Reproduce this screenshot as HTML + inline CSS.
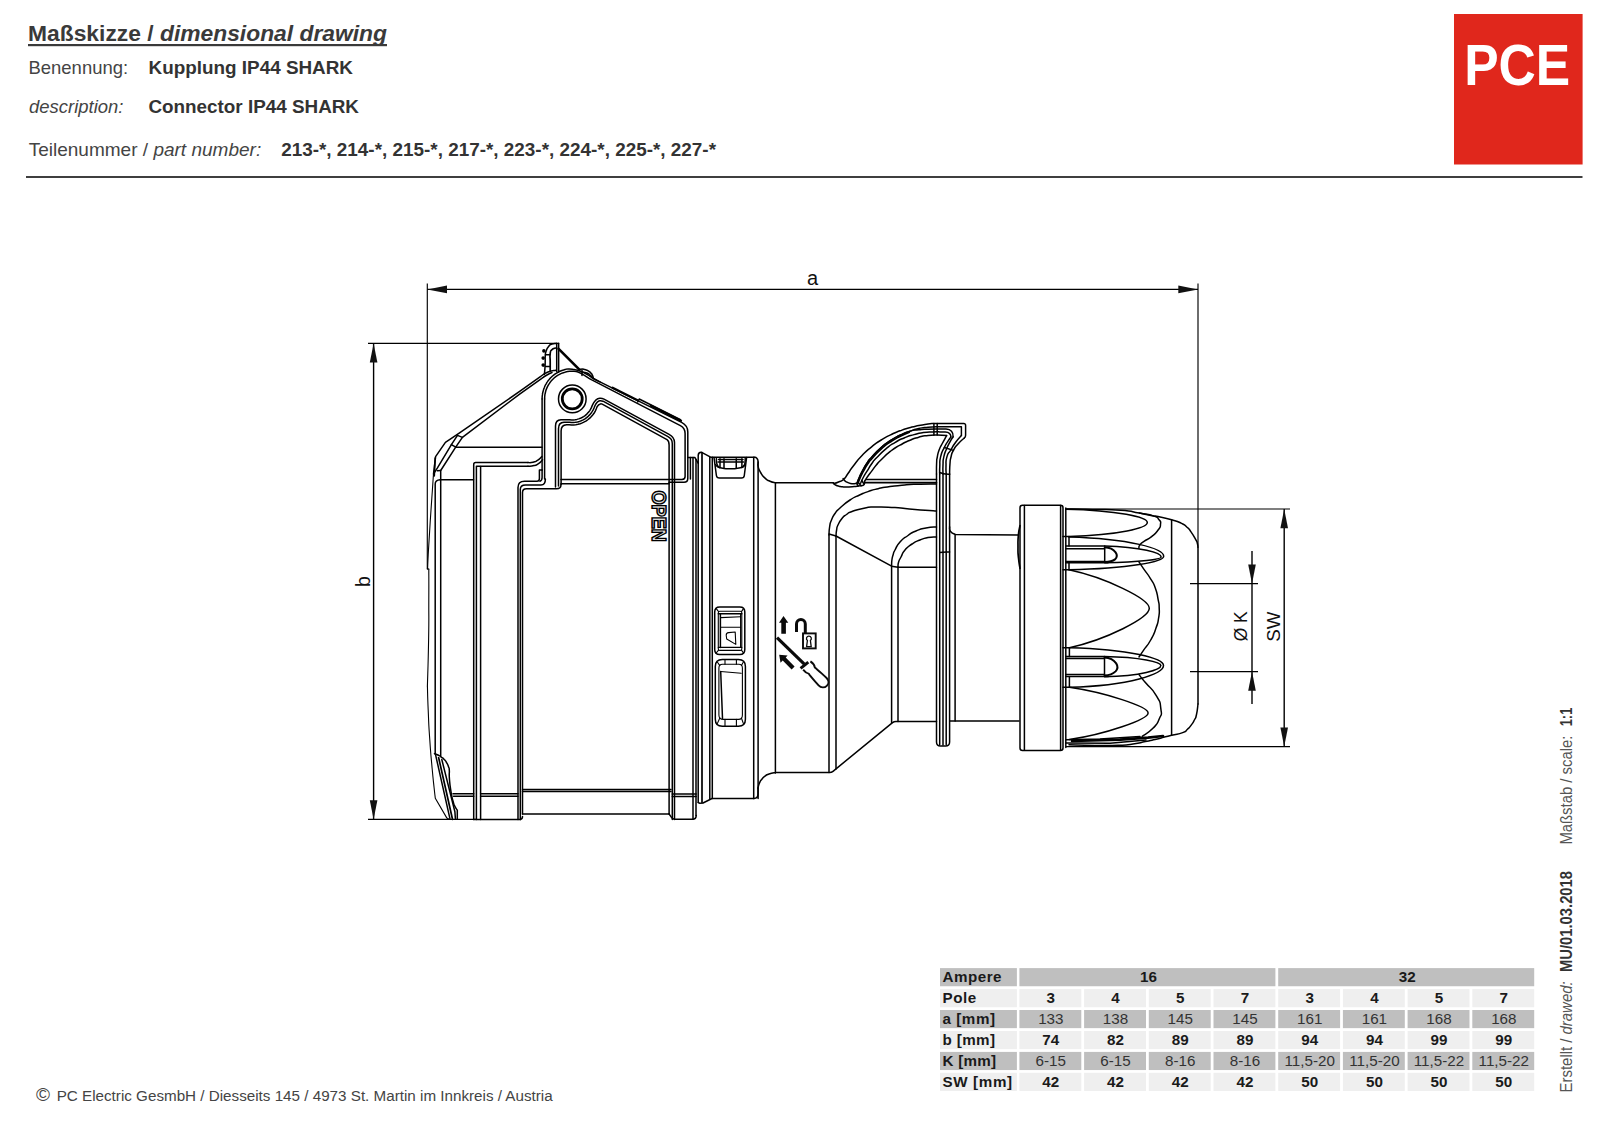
<!DOCTYPE html>
<html><head><meta charset="utf-8"><title>Maßskizze / dimensional drawing</title>
<style>
html,body{margin:0;padding:0;background:#fff;}
body{width:1600px;height:1128px;overflow:hidden;font-family:"Liberation Sans",sans-serif;}
svg{display:block;position:absolute;left:0;top:0;}
text{font-family:"Liberation Sans",sans-serif;}
</style></head><body>
<svg width="1600" height="1128" viewBox="0 0 1600 1128">
<rect width="1600" height="1128" fill="#fff"/>
<g fill="#3a3a3a">
<text x="28" y="41.3" font-size="22.8" font-weight="bold" textLength="359" lengthAdjust="spacingAndGlyphs">Maßskizze / <tspan font-style="italic">dimensional drawing</tspan></text>
<rect x="28" y="44" width="359" height="2.2"/>
</g>
<g font-size="18.6" fill="#444">
<text x="28.5" y="74" textLength="99.6" lengthAdjust="spacingAndGlyphs">Benennung:</text>
<text x="29" y="112.5" font-style="italic" textLength="94.4" lengthAdjust="spacingAndGlyphs">description:</text>
<text x="28.7" y="156.2" textLength="232.5" lengthAdjust="spacingAndGlyphs">Teilenummer / <tspan font-style="italic">part number:</tspan></text>
</g>
<g font-size="18.8" font-weight="bold" fill="#333">
<text x="148.5" y="74" textLength="204.5" lengthAdjust="spacingAndGlyphs">Kupplung IP44 SHARK</text>
<text x="148.4" y="112.5" textLength="210.6" lengthAdjust="spacingAndGlyphs">Connector IP44 SHARK</text>
<text x="281.2" y="156.2" textLength="434.8" lengthAdjust="spacingAndGlyphs">213-*, 214-*, 215-*, 217-*, 223-*, 224-*, 225-*, 227-*</text>
</g>
<rect x="26" y="176.2" width="1556.5" height="1.6" fill="#111"/>
<rect x="1454" y="14" width="128.6" height="150.5" fill="#e0271c"/>
<text x="1464.2" y="85.4" font-size="57.5" font-weight="bold" fill="#fff" textLength="106" lengthAdjust="spacingAndGlyphs">PCE</text>
<g fill="#444">
<text x="36" y="1101" font-size="19">©</text>
<text x="56.7" y="1100.8" font-size="15.2" textLength="496" lengthAdjust="spacingAndGlyphs">PC Electric GesmbH / Diesseits 145 / 4973 St. Martin im Innkreis / Austria</text>
</g>
<g transform="translate(1572.3,0) rotate(-90)" font-size="15.6" fill="#555">
<text x="-1092.4" y="0" textLength="111" lengthAdjust="spacingAndGlyphs">Erstellt / <tspan font-style="italic">drawed:</tspan></text>
<text x="-972" y="0" font-weight="bold" fill="#333" textLength="101" lengthAdjust="spacingAndGlyphs">MU/01.03.2018</text>
<text x="-844.6" y="0" textLength="109" lengthAdjust="spacingAndGlyphs">Maßstab / scale:</text>
<text x="-726.3" y="0" font-weight="bold" fill="#333" textLength="18.6" lengthAdjust="spacingAndGlyphs">1:1</text>
</g>

<g fill="none" stroke="#000" stroke-width="1.5" stroke-linecap="round" stroke-linejoin="round">
<path d="M558.65,343.3 V372"/>
<path d="M556.7,343.3 V371.4"/>
<path d="M558.65,348.8 L579.4,369.6" stroke-width="2.6"/>
<path d="M544.4,374.3 C544.6,372.4 544.6,372.7 544.9,368.6 C545.2,364.5 545.1,366.4 545.2,362.0 C545.3,357.6 545.0,359.1 545.3,355.5 C545.6,351.9 545.2,354.0 546.2,351.1 C547.2,348.2 546.5,349.1 548.4,346.8 C550.3,344.4 549.3,345.2 551.9,344.1 C554.5,343.0 554.8,343.6 556.2,343.4"/>
<path d="M550.2,370.4 C550.2,367.6 550.2,367.7 550.2,362.0 C550.2,356.3 549.6,357.4 550.2,353.3 C550.8,349.2 550.5,351.5 551.9,349.8 C553.3,348.1 552.9,348.9 554.5,348.3 C556.1,347.7 556.0,348.2 556.7,348.1" stroke-width="1.7"/>
<path d="M542.1,350.9 a1.8,1.8 0 1,0 3.6,0 a1.8,1.8 0 1,0 -3.6,0Z" fill="#000" stroke="none"/>
<path d="M541.4,358.1 a1.8,1.8 0 1,0 3.6,0 a1.8,1.8 0 1,0 -3.6,0Z" fill="#000" stroke="none"/>
<path d="M541.4,365.1 a1.8,1.8 0 1,0 3.6,0 a1.8,1.8 0 1,0 -3.6,0Z" fill="#000" stroke="none"/>
<path d="M545.5,354.8 H550 M545.5,366.4 H550"/>
<path d="M556.0,370.3 C553.3,370.9 553.2,369.9 548.0,372.0 C542.8,374.1 542.9,375.1 540.4,376.7 L520,391.2 L459.2,433.1 L445.4,442.3 L435.6,456.7 L433.5,474"/>
<path d="M433.5,474.0 C433.1,479.3 433.2,478.0 432.4,490.0 C431.6,502.0 432.0,495.0 431.0,510.0 C430.0,525.0 430.3,520.0 429.4,535.0 C428.5,550.0 428.8,543.7 428.2,555.0 C427.6,566.3 427.8,564.3 427.6,569.0" stroke-width="1.1"/>
<path d="M552.0,372.5 C550.3,373.3 550.5,373.0 547.0,375.0 C543.5,377.0 543.3,377.4 541.5,378.6 L520,393.8 L462.4,437.4 L455.7,447.2 L440.7,470.5 V756"/>
<path d="M457.5,435.4 L451.4,444.6 L437.3,468.2 L434.4,472.5"/>
<path d="M457.5,435.4 L462.4,437.4 M451.4,444.6 L455.7,447.2 M437.3,470.8 L440.7,470.5"/>
<path d="M435.2,458 L434.2,476" stroke-width="1.7"/>
<path d="M428.8,569.0 C428.8,579.3 428.9,576.3 428.8,600.0 C428.7,623.7 429.1,611.3 428.6,640.0 C428.1,668.7 427.8,670.7 427.4,686.0" stroke-width="1.1"/>
<path d="M427.3,569 H428.8" stroke-width="1.1"/>
<path d="M427.4,686.0 C427.7,694.0 427.4,692.0 428.2,710.0 C429.0,728.0 428.4,720.7 429.8,740.0 C431.1,759.3 430.7,752.1 432.1,768.0 C433.6,783.9 433.0,777.7 434.1,787.8 C435.2,797.9 434.9,794.7 435.3,798.2 L446.9,818.1 L449,819.3" stroke-width="1.1"/>
<path d="M440.2,479.7 Q435.2,480 435.2,484 V754"/>
<path d="M440.2,479.7 H473.5"/>
<path d="M455.7,447.3 H542"/>
<path d="M434.5,753.6 C435.7,754.1 435.7,753.8 438.0,755.0 C440.3,756.2 439.1,755.5 441.3,757.1 C443.5,758.7 442.6,757.8 444.5,759.8 C446.4,761.8 445.5,760.7 446.9,763.1 C448.3,765.5 447.8,764.6 448.6,767.0 C449.4,769.4 449.0,766.5 449.3,770.3 C449.6,774.1 448.9,771.4 449.4,778.3 C449.9,785.2 449.6,783.0 450.9,791.0 C452.2,799.0 451.9,797.0 453.3,802.2 C454.7,807.4 453.7,803.8 455.0,806.5 C456.3,809.2 456.5,809.0 457.3,810.2 V819.3"/>
<path d="M435.3,753.6 L450.1,819.3"/>
<path d="M438.6,757.5 L452.5,819.3" stroke-width="1.7"/>
<path d="M441.8,759.5 L454.9,811.8 L455.4,819"/>
<path d="M453,793.8 H473.7 M453.5,796.3 H473.7"/>
<path d="M473.7,819.4 V464.5 Q473.7,462.6 475.7,462.6 H528"/>
<path d="M528.0,462.6 C529.7,462.5 529.8,463.0 533.0,462.2 C536.2,461.4 534.6,462.2 537.5,460.3 C540.4,458.4 540.4,457.8 541.8,456.6"/>
<path d="M476.4,819.4 V466.2 H528"/>
<path d="M528.0,466.2 C530.0,466.0 530.5,466.5 534.0,465.6 C537.5,464.7 535.6,465.5 538.5,463.6 C541.4,461.7 541.2,461.1 542.6,459.8"/>
<path d="M480.6,819.4 V466.4"/>
<path d="M480.6,793.8 H518 M480.6,796.3 H518"/>
<path d="M518,819.4 V487.5 Q518,481.3 524.5,481.3 H537 Q539.4,481.3 539.4,478.5 V470 H542"/>
<path d="M520.3,819.4 V489.5 Q520.3,485 525.5,485 H541 Q545.4,485 545.4,479"/>
<path d="M522.5,814 V492.5 Q522.5,488.8 526.5,488.8 H556.5 Q561,488.8 561,484.5"/>
<path d="M542.1,470 V477.5 Q542.1,480.5 540,481.2"/>
<path d="M522.5,789.6 H671 M522.5,791.6 H671 M522.5,814 H669"/>
<path d="M473.7,819.4 H520.3"/>
<path d="M520.3,819.4 Q522.5,819 522.5,816.5"/>
<path d="M668.9,813.8 L671.3,817.1 Q672.5,819.3 675,819.3 H692.5 Q696.2,819.3 696.2,815.5"/>
<path d="M672.3,794 H696.2 M672.3,796.5 H696.2"/>
<path d="M542.1,398.9 C542.2,397.6 542.0,397.5 542.4,394.9 C542.7,392.3 542.5,393.6 543.2,391.0 C543.9,388.4 543.4,389.7 544.5,387.2 C545.5,384.7 544.9,385.9 546.3,383.6 C547.6,381.3 546.9,382.4 548.5,380.3 C550.1,378.2 549.3,379.2 551.2,377.3 C553.1,375.5 552.1,376.3 554.2,374.7 C556.3,373.1 555.2,373.8 557.6,372.5 C559.9,371.2 558.7,371.8 561.2,370.8 C563.7,369.8 562.7,370.2 565.0,369.6 C567.3,369.0 565.1,369.0 568.1,369.0 C571.1,369.0 569.9,368.9 574.0,369.6 C578.1,370.3 576.0,369.6 580.3,371.2 C584.6,372.8 582.5,372.0 586.9,374.4 C591.3,376.8 589.0,376.0 593.4,378.5 C597.8,381.0 597.8,380.8 600.0,381.9"/>
<path d="M544.6,398.9 L544.7,396.7 L544.9,394.6 L545.4,392.5 L545.9,390.4 L546.7,388.4 L547.6,386.4 L548.6,384.6 L549.8,382.8 L551.1,381.1 L552.6,379.5 L554.1,378.0 L555.8,376.6 L557.6,375.4 L559.5,374.4 L561.4,373.4 L563.4,372.7 L565.5,372.1 L567.6,371.6 L569.7,371.3 L571.9,371.2 L574.0,371.3 L576.2,371.5 C580.2,372.1 586,376.6 591.3,379.7 L680.4,425.6 Q685.1,428 685.1,433.5 V476.5 Q685.1,479.4 682,479.4 H561"/>
<path d="M542.1,398.9 V470 M544.6,398.9 V479"/>
<path d="M593.4,378.6 L681.6,422.4 Q687.8,425.5 687.8,432 V478.5 Q687.8,482.3 684,482.3 H669"/>
<path d="M561,483.8 H669"/>
<path d="M637.8,402 L639.2,399 L680.5,419.6"/>
<path d="M612.6,387.8 L638,400.5" stroke-width="2.3"/>
<path d="M651,405.8 L681,420.8" stroke-width="2.3"/>
<path d="M579.9,369.4 C580.7,369.3 580.8,369.1 582.4,369.1 C584.0,369.1 583.2,369.1 584.7,369.5 C586.2,369.9 585.6,369.6 587.0,370.2 C588.4,370.8 587.7,370.5 589.0,371.4 C590.3,372.3 589.8,371.8 590.8,372.9 C591.8,374.0 591.2,372.9 592.1,374.7 C593.0,376.5 593.0,377.0 593.4,378.2"/>
<path d="M582.0,372.0 C583.6,372.3 584.1,371.9 586.9,373.0 C589.7,374.1 588.7,373.9 590.4,375.4 C592.1,376.9 591.5,376.9 592.0,377.6"/>
<path d="M582,370 V375.4"/>
<path d="M558.5,398.9 a13.8,13.8 0 1,0 27.6,0 a13.8,13.8 0 1,0 -27.6,0"/>
<path d="M562.3,398.9 a9.95,9.95 0 1,0 19.9,0 a9.95,9.95 0 1,0 -19.9,0" stroke-width="2.8"/>
<path d="M555.5,487.0 V425.9 Q555.5,419.9 561.0,419.7 L569.7,419.7 L571.5,419.9 L573.4,419.9 L575.2,419.7 L576.9,419.4 L578.7,418.9 L580.4,418.3 L582.0,417.5 L583.6,416.6 L585.1,415.6 L586.5,414.4 L587.7,413.1 L588.9,411.8 L589.9,410.3 L590.9,408.7 L591.6,407.1 L592.3,405.4 C593.6,402.6 596,398.6 599.8,398.3 C601.5,398.2 602.5,398.4 604,399.1 L669.1,434.4 Q674.5,437.2 674.5,442.5 V819.4"/>
<path d="M558.5,486.0 V428.5 Q558.5,422.5 564.0,422.3 L569.4,422.3 L571.5,422.5 L573.5,422.5 L575.5,422.3 L577.5,421.9 L579.5,421.4 L581.4,420.7 L583.2,419.8 L585.0,418.8 L586.6,417.6 L588.2,416.3 L589.6,414.9 L591.0,413.3 L592.1,411.7 L593.2,409.9 L594.0,408.1 L594.7,406.2 C595.8,403.6 597.2,401 599.8,400.7 C601,400.6 602,400.8 603,401.2 L668,436.7 Q672.3,439 672.3,443.5 V819.4"/>
<path d="M561.1,484.5 V430.9 Q561.1,424.9 566.6,424.7 L569.1,424.7 L571.4,424.9 L573.6,424.9 L575.8,424.7 L578.0,424.3 L580.2,423.7 L582.3,422.9 L584.3,421.9 L586.3,420.8 L588.1,419.5 L589.8,418.1 L591.4,416.5 L592.9,414.8 L594.2,413.0 L595.3,411.1 L596.2,409.0 L597.0,406.9 C598,405 599,404.1 600.5,403.9 C601.2,403.8 601.6,403.9 602.2,404.2 L667,439.7 Q669.1,441 669.1,445 V814"/>
<path d="M687.8,457.4 H694.8 L698.3,463.4"/>
<path d="M693,457.4 V819.3 M696,459.5 V815.5"/>
<path d="M690.4,457.4 V479"/>
<path d="M698.2,802.5 V455.5 Q698.2,452.2 701.2,452.2 L710.6,457.2 H754"/>
<path d="M702,452.6 V802.4" stroke-width="1.7"/>
<path d="M709.8,457.2 V798.8 M712.3,457.2 V798.6"/>
<path d="M698.2,802.5 L699.5,803.2 L703.0,803.0 L712.0,798.5 H754"/>
<path d="M754.0,457.2 C754.9,457.5 755.4,456.6 756.8,458.2 C758.2,459.8 757.7,459.3 758.1,462.0 C758.5,464.7 757.3,462.8 758.1,466.2 C758.9,469.8 758.3,468.6 760.6,472.5 C762.9,476.4 761.9,475.2 765.0,478.1 C768.1,481.0 766.5,479.7 770.0,481.2 C773.5,482.8 773.7,482.3 775.6,482.8"/>
<path d="M753.7,457.5 V798.6 M758.1,462 V798.6"/>
<path d="M775.4,482.8 V773"/>
<path d="M775.4,482.8 H833.5"/>
<path d="M754,798.5 Q758,798.4 758,794 V788"/>
<path d="M758.0,788.0 C758.5,786.3 758.2,786.0 759.5,783.0 C760.8,780.0 760.2,781.3 762.0,779.0 C763.8,776.7 762.7,777.9 765.0,776.2 C767.3,774.5 765.3,775.2 769.0,774.0 C772.7,772.8 773.7,773.0 776.0,772.5 H829.5 Q831.5,772.5 833,771.3 L892.5,722.6 Q894,721.4 896,721.4 H936.5"/>
<path d="M829,535 V772.5 M836,536 V769"/>
<path d="M891.6,566 V723 M898,567 V721.4"/>
<path d="M714,457.4 L716.4,475.5 Q716.8,478.1 719.5,478.1 H741.5 Q744,478.1 744.3,475.5 L746.6,457.4"/>
<path d="M715.6,464.7 C716.1,465.3 715.9,465.5 717.2,466.4 C718.5,467.3 717.1,466.8 719.4,467.5 C721.7,468.2 720.5,468.0 724.0,468.4 C727.5,468.8 726.0,468.8 730.0,468.8 C734.0,468.8 732.2,468.8 736.0,468.4 C739.8,468.0 738.7,468.2 741.2,467.5 C743.8,466.8 742.2,467.3 743.6,466.4 C745.0,465.5 744.7,465.3 745.3,464.7"/>
<path d="M720,458.75 V467.6 M724,458.75 V468.3 M736.25,458.75 V468.3 M741.9,458.75 V467.4"/>
<path d="M718.5,459.5 H743 M718,462 H743.5"/>
<path d="M716.4,458.5 C716.5,459.8 716.2,460.2 716.6,462.5 C717.0,464.8 716.7,463.8 717.6,465.5 C718.5,467.2 718.8,466.8 719.4,467.5"/>
<path d="M745.2,458.5 C745.1,459.8 745.4,460.2 745.0,462.5 C744.6,464.8 745.0,463.9 744.0,465.5 C743.0,467.1 742.6,466.8 741.9,467.4"/>
<path d="M719.7,607.0 H739.8 Q744.8,607.0 744.8,612.0 V649.6 Q744.8,654.6 739.8,654.6 H719.7 Q714.7,654.6 714.7,649.6 V612.0 Q714.7,607.0 719.7,607.0Z"/>
<path d="M719.8,611.3 H740.3 Q741.8,611.3 741.8,612.8 V648.9 Q741.8,650.4 740.3,650.4 H719.8 Q718.3,650.4 718.3,648.9 V612.8 Q718.3,611.3 719.8,611.3Z" stroke-width="1.1"/>
<path d="M716,608.4 L718.6,611.6 M743.6,608.4 L741.5,611.6 M716,653.2 L718.6,650.1 M743.6,653.2 L741.5,650.1" stroke-width="1.1"/>
<path d="M718.3,613.7 H741.8"/>
<path d="M720.7,617.6 L740.6,616.8 M720.7,627.2 H740.6 M718.3,647.4 H741.8" stroke-width="1.1"/>
<path d="M720.4,613.7 V647.4"/>
<path d="M740.6,613.7 V647.4" stroke-width="1.1"/>
<path d="M728.6,632.6 L735.2,632 L735.8,644.4 L726.7,639 L726.2,635.2 Q726.2,632.8 728.6,632.6Z" stroke-width="1.1"/>
<path d="M722.3,659.4 H738.4 Q745.4,659.4 745.4,666.4 V719.3 Q745.4,726.3 738.4,726.3 H722.3 Q715.3,726.3 715.3,719.3 V666.4 Q715.3,659.4 722.3,659.4Z"/>
<path d="M725,660 V664.3 M736.4,660 V664.3" stroke-width="1.1"/>
<path d="M722.5,664.3 H738.8 Q742.4,664.3 742.4,668 V715 Q742.4,719.4 738.5,719.4 H723.5 Q718.9,719.4 718.9,715 V668 Q718.9,664.3 722.5,664.3Z" stroke-width="1.1"/>
<path d="M720.7,671.5 L741.2,673.3" stroke-width="1.1"/>
<path d="M720.7,671.5 L722.5,718.5"/>
<path d="M725,719.4 V725.8 M736.4,719.4 V725.8" stroke-width="1.1"/>
<path d="M717.3,662 L719.8,665.6 M743.4,662 L741.4,665.6 M717.3,723.6 L719.8,718 M743.4,723.6 L741.4,718" stroke-width="1.1"/>
<path d="M936.5,474 V742 Q936.5,746 940.5,746 H945.5 Q949.6,746 949.6,742 V474"/>
<path d="M939.7,474 V744.5 M943,474 V745 M946.2,474 V744.5"/>
<path d="M833.5,483.6 C835.2,483.1 835.1,483.5 838.5,482.0 C841.9,480.5 840.6,482.0 843.8,479.2 C846.9,476.4 844.9,477.8 848.0,473.5 C851.1,469.2 848.3,472.4 853.1,466.2 C857.9,460.0 856.2,461.5 862.5,455.0 C868.8,448.5 865.6,451.6 871.9,446.6 C878.1,441.6 875.0,443.9 881.2,440.0 C887.5,436.1 884.4,437.9 890.6,434.8 C896.9,431.7 893.7,433.1 900.0,430.8 C906.3,428.5 903.1,429.6 909.4,427.8 C915.6,426.0 912.5,426.8 918.8,425.5 C925.0,424.2 923.4,424.7 928.1,424.0 C932.8,423.3 931.2,423.7 932.8,423.5 H963.6 Q965.6,423.4 965.6,425.4 V435.2 Q965.6,437 964.3,438"/>
<path d="M964.3,438.0 C962.2,440.0 961.6,439.9 958.0,444.0 C954.4,448.1 955.7,446.1 953.4,450.4 C951.1,454.7 952.1,452.6 951.0,457.0 C949.9,461.4 950.5,457.8 950.0,463.5 C949.5,469.2 949.7,470.5 949.6,474.0"/>
<path d="M857.0,483.2 C857.8,481.1 857.7,481.1 859.5,477.0 C861.3,472.9 860.1,475.4 862.5,470.9 C864.9,466.4 863.7,468.2 866.8,463.5 C869.9,458.8 867.1,462.2 871.9,456.9 C876.7,451.6 875.0,453.0 881.2,447.5 C887.5,442.0 884.4,444.6 890.6,440.5 C896.9,436.4 893.7,438.3 900.0,435.3 C906.3,432.3 903.1,433.6 909.4,431.4 C915.6,429.2 912.5,430.0 918.8,428.6 C925.0,427.2 921.0,427.8 928.1,427.2 C935.2,426.6 936.0,426.9 940.0,426.8 H961.4 V435.6"/>
<path d="M961.4,435.6 C959.4,437.9 959.0,437.8 955.5,442.5 C952.0,447.2 953.8,445.0 950.9,449.8 C948.0,454.6 948.5,451.5 946.9,456.9 C945.3,462.3 946.2,460.3 946.0,466.0 C945.8,471.7 946.1,471.3 946.2,474.0"/>
<path d="M857.0,483.2 C857.8,481.1 857.7,481.1 859.5,477.0 C861.3,472.9 860.1,475.4 862.5,470.9 C864.9,466.4 863.7,468.2 866.8,463.5 C869.9,458.8 867.1,462.2 871.9,456.9 C876.7,451.6 875.0,453.0 881.2,447.5 C887.5,442.0 884.4,444.6 890.6,440.5 C896.9,436.4 893.7,438.3 900.0,435.3 C906.3,432.3 903.1,433.2 909.4,431.4 C915.6,429.6 912.5,430.5 918.8,429.8 C925.0,429.1 921.0,429.4 928.1,429.2 C935.2,429.0 936.0,429.1 940.0,429.1 H946 Q953.5,429.4 953.1,436.8"/>
<path d="M953.1,436.8 C952.1,438.5 952.2,437.8 950.0,441.9 C947.8,446.0 948.6,444.0 946.5,449.0 C944.4,454.0 945.0,451.6 943.8,456.9 C942.6,462.2 943.3,459.3 943.0,465.0 C942.7,470.7 943.0,471.0 943.0,474.0"/>
<path d="M858.0,483.4 C858.8,481.4 858.6,481.5 860.4,477.5 C862.2,473.5 861.0,475.9 863.4,471.5 C865.8,467.1 864.6,468.8 867.7,464.2 C870.8,459.6 868.0,463.0 872.8,457.7 C877.6,452.4 875.9,453.8 882.0,448.4 C888.1,443.0 885.1,445.5 891.2,441.5 C897.3,437.5 894.3,439.3 900.4,436.3 C906.5,433.3 906.4,433.7 909.4,432.4"/>
<path d="M860.6,483.2 C861.6,481.1 861.3,481.1 863.5,477.0 C865.7,472.9 864.5,475.2 867.2,470.9 C869.9,466.6 868.4,468.4 871.5,464.0 C874.6,459.6 871.8,462.8 876.6,457.8 C881.4,452.8 879.7,454.1 885.9,448.9 C892.1,443.7 889.0,446.0 895.3,442.3 C901.6,438.6 898.4,440.3 904.7,437.7 C911.0,435.1 907.9,436.3 914.1,434.6 C920.3,432.9 917.2,433.5 923.4,432.6 C929.6,431.7 927.3,432.1 932.8,431.9 C938.3,431.7 937.6,431.9 940.0,431.9 H945.2 Q951,432.2 950.9,437"/>
<path d="M950.9,437.0 C950.0,438.2 950.5,437.2 948.3,440.7 C946.1,444.2 946.9,442.1 944.3,447.5 C941.7,452.9 942.1,450.7 940.6,456.9 C939.1,463.1 940.1,460.3 939.8,466.0 C939.5,471.7 939.7,471.3 939.7,474.0"/>
<path d="M865.0,480.6 C866.0,479.1 865.7,479.2 868.0,476.0 C870.3,472.8 869.1,474.6 871.9,470.9 C874.7,467.2 873.2,468.7 876.3,465.0 C879.4,461.3 876.5,464.3 881.2,459.7 C886.0,455.1 884.4,456.1 890.6,451.2 C896.9,446.4 893.7,448.8 900.0,445.2 C906.3,441.6 903.1,443.2 909.4,440.5 C915.6,437.8 912.5,438.9 918.8,437.2 C925.0,435.5 921.9,436.2 928.1,435.4 C934.4,434.6 934.4,435.1 937.5,434.9 L946.6,435.6"/>
<path d="M946.6,435.6 C945.1,438.4 944.5,439.3 942.0,444.0 C939.5,448.7 940.8,445.5 939.2,449.8 C937.6,454.1 938.2,452.4 937.3,457.0 C936.4,461.6 936.9,457.8 936.6,463.5 C936.3,469.2 936.5,470.5 936.5,474.0"/>
<path d="M944.3,447.5 L953.4,450.4"/>
<path d="M939.6,472.5 Q944,474.5 949.6,474.2"/>
<path d="M933.9,423.4 V435.2 M937.2,423.4 V435"/>
<path d="M939.7,552.6 Q944,551.6 949.6,552"/>
<path d="M833.5,483.4 C834.2,483.9 833.8,484.1 835.6,485.0 C837.4,485.9 836.3,485.6 839.0,486.2 C841.7,486.8 840.3,486.6 843.6,486.9 C846.9,487.2 845.4,487.1 849.0,487.0 C852.6,486.9 851.1,486.9 854.3,486.6 C857.5,486.3 855.9,486.4 858.5,486.0 C861.1,485.6 860.2,486.2 862.2,485.5 C864.2,484.8 863.6,485.4 864.4,483.9 C865.2,482.4 864.5,482.0 864.6,481.0"/>
<path d="M843.1,478.6 C843.6,479.2 843.4,479.3 844.5,480.4 C845.6,481.5 844.3,480.8 846.3,481.8 C848.3,482.8 847.3,482.8 850.5,483.4 C853.7,484.0 854.1,483.5 855.9,483.6"/>
<path d="M856.4,483.2 L858.2,486 M859,483.2 L861,485.8 M861.8,480.5 L864,484"/>
<path d="M866,479.4 H936.5"/>
<path d="M865.5,482.6 H936.5" stroke-width="1.7"/>
<path d="M829.0,535.0 C829.2,532.3 828.8,532.0 829.6,527.0 C830.4,522.0 829.7,524.5 831.5,520.0 C833.3,515.5 832.2,517.5 835.0,513.5 C837.8,509.5 835.0,512.5 840.0,508.0 C845.0,503.5 843.5,504.3 850.0,500.0 C856.5,495.7 853.6,497.8 859.6,495.0 C865.6,492.2 861.8,493.7 868.0,491.6 C874.2,489.5 870.9,490.4 878.2,488.7 C885.5,487.0 881.1,487.9 890.0,486.6 C898.9,485.3 894.8,485.7 904.8,484.9 C914.8,484.1 909.4,484.5 920.0,484.2 C930.6,483.9 931.0,484.1 936.5,484.0"/>
<path d="M836.0,536.2 C836.2,534.1 835.9,533.7 836.6,530.0 C837.3,526.3 836.2,528.8 838.0,525.0 C839.8,521.2 839.2,522.0 842.0,518.5 C844.8,515.0 843.2,516.8 846.5,514.5 C849.8,512.2 846.2,513.6 852.0,511.5 C857.8,509.4 856.0,509.7 864.0,508.2 C872.0,506.7 865.7,507.2 876.0,507.0 C886.3,506.8 882.0,506.8 895.0,507.6 C908.0,508.4 901.2,508.3 915.0,509.4 C928.8,510.5 929.3,510.5 936.5,511.0"/>
<path d="M829.0,534.0 L836.0,536.0 L891.6,566.2 L898.0,567.2 H936.5"/>
<path d="M891.6,566.0 C891.7,564.0 891.4,563.8 891.9,560.0 C892.4,556.2 892.2,557.8 893.2,554.5 C894.2,551.2 892.7,554.2 895.0,550.0 C897.3,545.8 895.7,546.8 900.0,542.0 C904.3,537.2 902.7,539.2 908.0,535.5 C913.3,531.8 910.0,533.5 916.0,531.0 C922.0,528.5 919.2,529.3 926.0,528.0 C932.8,526.7 933.0,527.3 936.5,527.0"/>
<path d="M898.0,567.0 C898.2,565.3 897.6,565.3 898.6,562.0 C899.6,558.7 898.9,561.0 901.0,557.0 C903.1,553.0 901.3,554.3 905.0,550.0 C908.7,545.7 907.0,547.3 912.0,544.0 C917.0,540.7 914.7,542.1 920.0,540.0 C925.3,537.9 922.5,538.6 928.0,537.6 C933.5,536.6 933.7,537.2 936.5,537.0"/>
<path d="M949.6,526.8 C949.9,528.4 948.8,529.0 950.6,531.5 C952.4,534.0 953.6,533.4 955.1,534.4 L1018,535"/>
<path d="M955.1,534.4 V721"/>
<path d="M949.6,721 H1019"/>
<path d="M1020.0,525.7 C1019.5,528.8 1019.1,527.9 1018.4,535.0 C1017.7,542.1 1018.0,539.3 1018.0,547.0 C1018.0,554.7 1017.8,550.9 1018.5,558.0 C1019.2,565.1 1019.5,564.9 1020.0,568.3" stroke-width="1.7"/>
<path d="M1022.5,505.3 H1060.5 Q1063.0,505.3 1063.0,507.8 V748.0 Q1063.0,750.5 1060.5,750.5 H1022.5 Q1020.0,750.5 1020.0,748.0 V507.8 Q1020.0,505.3 1022.5,505.3Z"/>
<path d="M1024.4,505.6 V750.2 M1060.6,505.6 V750.2"/>
<path d="M1065.8,508 V747.6"/>
<path d="M1063,536.6 H1069 M1069,536.6 V545.9 M1069,562.8 V569.8 M1063,569.8 H1069"/>
<path d="M1063,647.7 H1069.4 M1069.4,647.7 V656.5 M1069.4,676.7 V687.3 M1063,687.3 H1069.4"/>
<path d="M1171.6,519.7 V735.2"/>
<path d="M1139.4,513.1 C1144.1,514.0 1147.2,514.7 1153.4,515.9 C1159.6,517.1 1151.9,515.3 1158.0,516.6 C1164.1,517.9 1163.8,517.4 1171.6,519.7 C1179.4,522.0 1176.4,520.9 1181.5,523.4 C1186.6,525.9 1183.8,524.4 1187.0,527.2 C1190.2,530.0 1188.1,527.8 1191.0,531.9 C1193.9,536.0 1193.5,535.5 1195.6,539.4 C1197.7,543.3 1196.6,540.6 1197.4,543.5 C1198.2,546.4 1197.8,546.5 1198.0,548.0 V704"/>
<path d="M1198.0,704.0 C1197.5,707.5 1197.7,709.2 1196.5,714.5 C1195.3,719.8 1196.2,716.5 1194.4,720.0 C1192.6,723.5 1193.5,722.0 1191.2,725.1 C1188.9,728.2 1190.3,726.7 1187.5,729.2 C1184.7,731.7 1188.0,730.6 1182.7,732.6 C1177.4,734.6 1178.0,733.6 1171.6,735.2 C1165.2,736.8 1166.2,736.6 1163.5,737.3"/>
<path d="M1147.3,522.5 C1147.3,517.3 1118.3,510.3 1065.8,509.2 M1147.3,522.5 C1147.3,527.9 1119.4,535.2 1069.0,536.4"/>
<path d="M1066.0,509.0 C1074.8,509.1 1074.3,509.0 1092.5,509.4 C1110.7,509.8 1105.0,509.1 1120.6,510.3 C1136.2,511.5 1128.5,511.2 1139.4,513.1 C1150.3,515.0 1146.9,513.7 1153.4,515.9 C1159.9,518.1 1156.6,516.9 1159.0,519.7 C1161.4,522.5 1160.8,521.0 1160.5,524.4 C1160.2,527.8 1161.1,525.9 1158.1,530.0 C1155.1,534.1 1156.3,532.8 1151.6,536.6 C1146.9,540.4 1147.9,538.5 1144.0,541.3 C1140.1,544.1 1141.5,542.7 1139.8,545.0 C1138.1,547.3 1139.2,547.2 1138.9,548.3"/>
<path d="M1163.7,556.2 C1163.7,548.7 1130.0,538.6 1069.0,537.0 M1163.7,556.2 C1163.7,561.5 1130.0,568.7 1069.0,569.8"/>
<path d="M1161.2,557.0 C1161.2,552.7 1141.1,546.8 1104.7,545.9 M1161.2,557.0 C1161.2,559.3 1141.1,562.3 1104.7,562.8"/>
<path d="M1065.8,545.9 H1104.7 M1065.8,548.7 H1104.7 M1065.8,561.4 H1104.7"/>
<path d="M1065.8,562.6 H1108" stroke-width="1.7"/>
<path d="M1104.7,548.7 V561.4"/>
<path d="M1104.7,547.3 C1110,547.6 1113.5,549.6 1115.6,552.4 C1117.4,555 1117.2,557.4 1115,559.4 C1112.5,561.4 1109,562 1104.7,562" stroke-width="2.0"/>
<path d="M1149.3,608.3 C1149.3,598.7 1105.1,577.5 1069.0,569.8 M1149.3,608.3 C1149.3,618.1 1105.4,639.8 1069.4,647.7"/>
<path d="M1138.9,561.9 C1140.6,564.4 1140.1,563.8 1144.0,569.4 C1147.9,575.0 1146.8,572.5 1150.6,578.8 C1154.4,585.0 1152.8,581.2 1155.3,588.1 C1157.8,595.0 1156.8,592.8 1158.1,599.4 C1159.4,606.0 1159.0,601.8 1159.2,608.0 C1159.4,614.2 1159.7,611.3 1158.6,618.0 C1157.5,624.7 1158.6,620.7 1156.0,628.0 C1153.4,635.3 1154.9,632.5 1150.7,640.0 C1146.5,647.5 1147.2,644.9 1143.3,650.6 C1139.4,656.3 1140.4,654.9 1139.0,657.0"/>
<path d="M1163.5,665.5 C1163.5,658.6 1130.0,649.2 1069.4,647.7 M1163.5,665.5 C1163.5,674.0 1130.0,685.5 1069.4,687.3"/>
<path d="M1160.9,665.5 C1160.9,662.0 1140.8,657.2 1104.5,656.5 M1160.9,665.5 C1160.9,669.9 1140.8,675.8 1104.5,676.7"/>
<path d="M1065.8,656.5 H1104.5 M1065.8,658.6 H1104.5 M1065.8,674.6 H1104.5"/>
<path d="M1065.8,676.5 H1108" stroke-width="1.7"/>
<path d="M1104.5,658.6 V674.6"/>
<path d="M1104.5,657.6 C1110,658 1114,660.4 1116.2,663.4 C1118,666.2 1117.8,669 1115.6,671.4 C1113,674 1109,675.4 1104.5,675.6" stroke-width="2.0"/>
<path d="M1148.1,712.9 C1148.1,706.5 1104.8,692.4 1069.4,687.3 M1148.1,712.9 C1148.1,719.5 1104.8,734.2 1069.4,739.5"/>
<path d="M1139.0,674.6 C1141.1,677.3 1139.7,675.7 1145.4,682.6 C1151.1,689.5 1150.9,686.5 1156.1,695.3 C1161.3,704.1 1159.8,701.3 1160.9,709.1 C1162.0,716.9 1162.0,712.3 1159.3,718.7 C1156.6,725.1 1158.6,722.4 1152.9,728.3 C1147.2,734.2 1145.8,733.6 1142.2,736.3"/>
<path d="M1072,741 L1120,739.6 L1148,737.6 L1163,736" stroke-width="2.6"/>
<path d="M1066,739.8 L1100,739 L1140,736.6"/>
<path d="M1069.0,744.8 C1077.7,745.0 1078.4,745.2 1095.0,745.4 C1111.6,745.6 1106.1,745.8 1118.8,745.3 C1131.5,744.8 1124.1,745.2 1133.0,744.0 C1141.9,742.8 1138.1,743.1 1145.4,741.6 C1152.7,740.1 1149.0,740.9 1155.0,739.5 C1161.0,738.1 1160.7,738.0 1163.5,737.3"/>
<path d="M1066,743 L1110,743.2 L1146,740"/>
</g>
<text transform="translate(652.3,490.4) rotate(90)" font-size="20.6" font-weight="bold" fill="#ddd" stroke="#000" stroke-width="1.45" textLength="51.6" lengthAdjust="spacingAndGlyphs">OPEN</text>
<g fill="#0a0a0a" stroke="none">
<path d="M783.5,616 L788.3,622.8 L785.9,622.8 L785.9,633.8 L781.3,633.8 L781.3,622.8 L779,622.8Z"/>
<path d="M779.2,654.7 L787.6,655.6 L785.7,657.6 L794.6,666.6 L791.6,669.6 L782.7,660.6 L780.5,662.8Z"/>
</g>
<g fill="none" stroke="#0a0a0a" stroke-linecap="butt">
<path d="M796.5,632 V624 A4.4,4.4 0 0 1 805.3,624 V633" stroke-width="3"/>
<rect x="803" y="633.4" width="12.7" height="15" stroke-width="1.9"/>
<path d="M808.9,636.2 a2.4,2.4 0 0 1 1.5,4.3 L811.2,646.6 H806.6 L807.4,640.5 a2.4,2.4 0 0 1 1.5,-4.3Z" stroke-width="1.3"/>
<path d="M777,637.6 L804.3,664.2" stroke-width="3.2"/>
<path d="M800.6,668.4 L808.3,662.2" stroke-width="3"/>
<path d="M803.2,669.6 C805.5,672.5 806,673.2 808.6,673.6 C810,676 812,678 818.6,685.4 C821,688 824.6,688 826.8,685.8 C829,683.6 829,680.4 826.6,678 C819,671 817,669 814.8,667.4 C814.6,664.6 813.6,663.6 810.4,661.4" stroke-width="1.9" stroke-linejoin="round"/>
</g>

<g fill="none" stroke="#000" stroke-width="1.4">
<path d="M427.3,283.6 V569" stroke-width="1.15"/>
<path d="M1198,283.6 V548" stroke-width="1.15"/>
<path d="M427.3,289.4 H1198"/>
<path d="M368,343.4 H558.6" stroke-width="1.15"/>
<path d="M368,819.4 H476" stroke-width="1.15"/>
<path d="M373.6,343.4 V819.4"/>
<path d="M1066,509 H1290" stroke-width="1.15"/>
<path d="M1066,746.6 H1290" stroke-width="1.15"/>
<path d="M1284.2,509 V746.6"/>
<path d="M1190,583.6 H1258" stroke-width="1.15"/>
<path d="M1190,671.6 H1258" stroke-width="1.15"/>
<path d="M1252,551 V704"/>
</g>
<g fill="#111" stroke="none">
<path d="M427.3,289.4 L447,285.6 L447,293.2Z"/>
<path d="M1198,289.4 L1178.3,285.6 L1178.3,293.2Z"/>
<path d="M373.6,343.4 L369.8,362.6 L377.4,362.6Z"/>
<path d="M373.6,819.4 L369.8,800.2 L377.4,800.2Z"/>
<path d="M1284.2,509 L1280.4,528.2 L1288,528.2Z"/>
<path d="M1284.2,746.6 L1280.4,727.4 L1288,727.4Z"/>
<path d="M1252,583.6 L1248.2,564.4 L1255.8,564.4Z"/>
<path d="M1252,671.6 L1248.2,690.8 L1255.8,690.8Z"/>
</g>
<g fill="#111">
<text x="812.6" y="285" font-size="20" text-anchor="middle">a</text>
<text transform="translate(370.2,586.9) rotate(-90)" font-size="19.5">b</text>
<text transform="translate(1247,641.2) rotate(-90)" font-size="17.5">Ø</text>
<text transform="translate(1247,623) rotate(-90)" font-size="17.5">K</text>
<text transform="translate(1280,641.8) rotate(-90)" font-size="18.5" textLength="30.2" lengthAdjust="spacingAndGlyphs">SW</text>
</g>

<rect x="940.0" y="968.1" width="76.9" height="18.15" fill="#bfbfbf"/>
<rect x="1019.4" y="968.1" width="256.0" height="18.15" fill="#bfbfbf"/>
<rect x="1278.2" y="968.1" width="256.0" height="18.15" fill="#bfbfbf"/>
<rect x="940.0" y="989.1" width="76.9" height="18.15" fill="#efefef"/>
<rect x="1019.4" y="989.1" width="61.9" height="18.15" fill="#efefef"/>
<rect x="1084.1" y="989.1" width="61.9" height="18.15" fill="#efefef"/>
<rect x="1148.8" y="989.1" width="61.9" height="18.15" fill="#efefef"/>
<rect x="1213.5" y="989.1" width="61.9" height="18.15" fill="#efefef"/>
<rect x="1278.2" y="989.1" width="61.9" height="18.15" fill="#efefef"/>
<rect x="1342.9" y="989.1" width="61.9" height="18.15" fill="#efefef"/>
<rect x="1407.6" y="989.1" width="61.9" height="18.15" fill="#efefef"/>
<rect x="1472.3" y="989.1" width="61.9" height="18.15" fill="#efefef"/>
<rect x="940.0" y="1010.0" width="76.9" height="18.15" fill="#bfbfbf"/>
<rect x="1019.4" y="1010.0" width="61.9" height="18.15" fill="#bfbfbf"/>
<rect x="1084.1" y="1010.0" width="61.9" height="18.15" fill="#bfbfbf"/>
<rect x="1148.8" y="1010.0" width="61.9" height="18.15" fill="#bfbfbf"/>
<rect x="1213.5" y="1010.0" width="61.9" height="18.15" fill="#bfbfbf"/>
<rect x="1278.2" y="1010.0" width="61.9" height="18.15" fill="#bfbfbf"/>
<rect x="1342.9" y="1010.0" width="61.9" height="18.15" fill="#bfbfbf"/>
<rect x="1407.6" y="1010.0" width="61.9" height="18.15" fill="#bfbfbf"/>
<rect x="1472.3" y="1010.0" width="61.9" height="18.15" fill="#bfbfbf"/>
<rect x="940.0" y="1031.0" width="76.9" height="18.15" fill="#efefef"/>
<rect x="1019.4" y="1031.0" width="61.9" height="18.15" fill="#efefef"/>
<rect x="1084.1" y="1031.0" width="61.9" height="18.15" fill="#efefef"/>
<rect x="1148.8" y="1031.0" width="61.9" height="18.15" fill="#efefef"/>
<rect x="1213.5" y="1031.0" width="61.9" height="18.15" fill="#efefef"/>
<rect x="1278.2" y="1031.0" width="61.9" height="18.15" fill="#efefef"/>
<rect x="1342.9" y="1031.0" width="61.9" height="18.15" fill="#efefef"/>
<rect x="1407.6" y="1031.0" width="61.9" height="18.15" fill="#efefef"/>
<rect x="1472.3" y="1031.0" width="61.9" height="18.15" fill="#efefef"/>
<rect x="940.0" y="1051.9" width="76.9" height="18.15" fill="#bfbfbf"/>
<rect x="1019.4" y="1051.9" width="61.9" height="18.15" fill="#bfbfbf"/>
<rect x="1084.1" y="1051.9" width="61.9" height="18.15" fill="#bfbfbf"/>
<rect x="1148.8" y="1051.9" width="61.9" height="18.15" fill="#bfbfbf"/>
<rect x="1213.5" y="1051.9" width="61.9" height="18.15" fill="#bfbfbf"/>
<rect x="1278.2" y="1051.9" width="61.9" height="18.15" fill="#bfbfbf"/>
<rect x="1342.9" y="1051.9" width="61.9" height="18.15" fill="#bfbfbf"/>
<rect x="1407.6" y="1051.9" width="61.9" height="18.15" fill="#bfbfbf"/>
<rect x="1472.3" y="1051.9" width="61.9" height="18.15" fill="#bfbfbf"/>
<rect x="940.0" y="1072.8" width="76.9" height="18.15" fill="#efefef"/>
<rect x="1019.4" y="1072.8" width="61.9" height="18.15" fill="#efefef"/>
<rect x="1084.1" y="1072.8" width="61.9" height="18.15" fill="#efefef"/>
<rect x="1148.8" y="1072.8" width="61.9" height="18.15" fill="#efefef"/>
<rect x="1213.5" y="1072.8" width="61.9" height="18.15" fill="#efefef"/>
<rect x="1278.2" y="1072.8" width="61.9" height="18.15" fill="#efefef"/>
<rect x="1342.9" y="1072.8" width="61.9" height="18.15" fill="#efefef"/>
<rect x="1407.6" y="1072.8" width="61.9" height="18.15" fill="#efefef"/>
<rect x="1472.3" y="1072.8" width="61.9" height="18.15" fill="#efefef"/>
<g font-size="15.2" fill="#1a1a1a">
<text x="942.5" y="981.9" font-weight="bold" textLength="59.0" lengthAdjust="spacing">Ampere</text>
<text x="1148.4" y="981.9" font-weight="bold" text-anchor="middle">16</text>
<text x="1407.2" y="981.9" font-weight="bold" text-anchor="middle">32</text>
<text x="942.5" y="1002.9" font-weight="bold" textLength="33.8" lengthAdjust="spacing">Pole</text>
<text x="1050.8" y="1002.9" font-weight="bold" text-anchor="middle">3</text>
<text x="1115.5" y="1002.9" font-weight="bold" text-anchor="middle">4</text>
<text x="1180.2" y="1002.9" font-weight="bold" text-anchor="middle">5</text>
<text x="1245.0" y="1002.9" font-weight="bold" text-anchor="middle">7</text>
<text x="1309.7" y="1002.9" font-weight="bold" text-anchor="middle">3</text>
<text x="1374.4" y="1002.9" font-weight="bold" text-anchor="middle">4</text>
<text x="1439.0" y="1002.9" font-weight="bold" text-anchor="middle">5</text>
<text x="1503.8" y="1002.9" font-weight="bold" text-anchor="middle">7</text>
<text x="942.5" y="1023.8" font-weight="bold" textLength="52.5" lengthAdjust="spacing">a [mm]</text>
<text x="1050.8" y="1023.8" fill="#333" text-anchor="middle">133</text>
<text x="1115.5" y="1023.8" fill="#333" text-anchor="middle">138</text>
<text x="1180.2" y="1023.8" fill="#333" text-anchor="middle">145</text>
<text x="1245.0" y="1023.8" fill="#333" text-anchor="middle">145</text>
<text x="1309.7" y="1023.8" fill="#333" text-anchor="middle">161</text>
<text x="1374.4" y="1023.8" fill="#333" text-anchor="middle">161</text>
<text x="1439.0" y="1023.8" fill="#333" text-anchor="middle">168</text>
<text x="1503.8" y="1023.8" fill="#333" text-anchor="middle">168</text>
<text x="942.5" y="1044.8" font-weight="bold" textLength="52.5" lengthAdjust="spacing">b [mm]</text>
<text x="1050.8" y="1044.8" font-weight="bold" text-anchor="middle">74</text>
<text x="1115.5" y="1044.8" font-weight="bold" text-anchor="middle">82</text>
<text x="1180.2" y="1044.8" font-weight="bold" text-anchor="middle">89</text>
<text x="1245.0" y="1044.8" font-weight="bold" text-anchor="middle">89</text>
<text x="1309.7" y="1044.8" font-weight="bold" text-anchor="middle">94</text>
<text x="1374.4" y="1044.8" font-weight="bold" text-anchor="middle">94</text>
<text x="1439.0" y="1044.8" font-weight="bold" text-anchor="middle">99</text>
<text x="1503.8" y="1044.8" font-weight="bold" text-anchor="middle">99</text>
<text x="942.5" y="1065.7" font-weight="bold" textLength="53.5" lengthAdjust="spacing">K [mm]</text>
<text x="1050.8" y="1065.7" fill="#333" text-anchor="middle">6-15</text>
<text x="1115.5" y="1065.7" fill="#333" text-anchor="middle">6-15</text>
<text x="1180.2" y="1065.7" fill="#333" text-anchor="middle">8-16</text>
<text x="1245.0" y="1065.7" fill="#333" text-anchor="middle">8-16</text>
<text x="1309.7" y="1065.7" fill="#333" text-anchor="middle">11,5-20</text>
<text x="1374.4" y="1065.7" fill="#333" text-anchor="middle">11,5-20</text>
<text x="1439.0" y="1065.7" fill="#333" text-anchor="middle">11,5-22</text>
<text x="1503.8" y="1065.7" fill="#333" text-anchor="middle">11,5-22</text>
<text x="942.5" y="1086.6" font-weight="bold" textLength="69.6" lengthAdjust="spacing">SW [mm]</text>
<text x="1050.8" y="1086.6" font-weight="bold" text-anchor="middle">42</text>
<text x="1115.5" y="1086.6" font-weight="bold" text-anchor="middle">42</text>
<text x="1180.2" y="1086.6" font-weight="bold" text-anchor="middle">42</text>
<text x="1245.0" y="1086.6" font-weight="bold" text-anchor="middle">42</text>
<text x="1309.7" y="1086.6" font-weight="bold" text-anchor="middle">50</text>
<text x="1374.4" y="1086.6" font-weight="bold" text-anchor="middle">50</text>
<text x="1439.0" y="1086.6" font-weight="bold" text-anchor="middle">50</text>
<text x="1503.8" y="1086.6" font-weight="bold" text-anchor="middle">50</text>
</g>
</svg>
</body></html>
